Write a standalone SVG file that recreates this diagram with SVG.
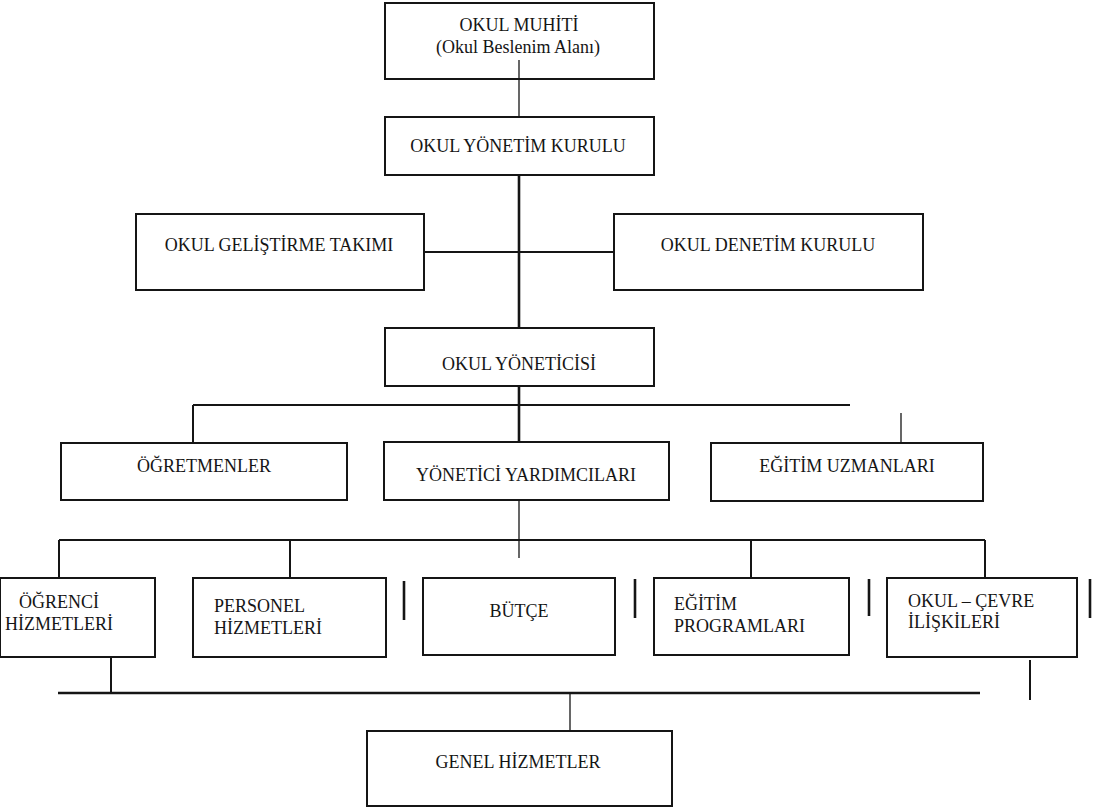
<svg xmlns="http://www.w3.org/2000/svg" width="1094" height="808" viewBox="0 0 1094 808">
<style>
.box{fill:#fff;stroke:#151515;stroke-width:2}
.t{font-family:"Liberation Serif","Times New Roman",serif;font-size:18px;fill:#151515}
.m{text-anchor:middle}
.ln{stroke:#151515;fill:none;stroke-width:2}
.th{stroke-width:2.6}
.tn{stroke-width:1.3}
</style>
<rect width="1094" height="808" fill="#fff"/>
<g id="okul-muhiti">
<rect class="box" x="385" y="3" width="269" height="76"/>
<text class="t m" x="519" y="31">OKUL MUHİTİ</text>
<text class="t m" x="518" y="53">(Okul Beslenim Alanı)</text>
</g>
<g id="okul-yonetim-kurulu">
<rect class="box" x="385" y="117" width="269" height="58"/>
<text class="t m" x="518" y="152">OKUL YÖNETİM KURULU</text>
</g>
<g id="okul-gelistirme-takimi">
<rect class="box" x="136" y="214" width="288" height="76"/>
<text class="t m" x="279" y="251">OKUL GELİŞTİRME TAKIMI</text>
</g>
<g id="okul-denetim-kurulu">
<rect class="box" x="614" y="214" width="309" height="76"/>
<text class="t m" x="768" y="251">OKUL DENETİM KURULU</text>
</g>
<g id="okul-yoneticisi">
<rect class="box" x="385" y="328" width="269" height="58"/>
<text class="t m" x="519" y="370">OKUL YÖNETİCİSİ</text>
</g>
<g id="ogretmenler">
<rect class="box" x="61" y="443" width="286" height="57"/>
<text class="t m" x="204" y="472">ÖĞRETMENLER</text>
</g>
<g id="yonetici-yardimcilari">
<rect class="box" x="384" y="442" width="285" height="58"/>
<text class="t m" x="526" y="481">YÖNETİCİ YARDIMCILARI</text>
</g>
<g id="egitim-uzmanlari">
<rect class="box" x="711" y="443" width="272" height="58"/>
<text class="t m" x="847" y="472">EĞİTİM UZMANLARI</text>
</g>
<g id="ogrenci-hizmetleri">
<rect class="box" x="0" y="578" width="155" height="79"/>
<text class="t m" x="59" y="608">ÖĞRENCİ</text>
<text class="t m" x="59" y="630">HİZMETLERİ</text>
</g>
<g id="personel-hizmetleri">
<rect class="box" x="193" y="578" width="193" height="79"/>
<text class="t" x="214" y="612">PERSONEL</text>
<text class="t" x="214" y="634">HİZMETLERİ</text>
</g>
<g id="butce">
<rect class="box" x="423" y="578" width="192" height="77"/>
<text class="t m" x="519" y="617">BÜTÇE</text>
</g>
<g id="egitim-programlari">
<rect class="box" x="654" y="578" width="195" height="77"/>
<text class="t" x="674" y="610">EĞİTİM</text>
<text class="t" x="674" y="632">PROGRAMLARI</text>
</g>
<g id="okul-cevre-iliskileri">
<rect class="box" x="887" y="578" width="190" height="79"/>
<text class="t" x="908" y="607">OKUL – ÇEVRE</text>
<text class="t" x="908" y="628">İLİŞKİLERİ</text>
</g>
<g id="genel-hizmetler">
<rect class="box" x="367" y="731" width="305" height="75"/>
<text class="t m" x="518" y="768">GENEL HİZMETLER</text>
</g>
<g id="connectors">
<line class="ln tn" x1="519" y1="60" x2="519" y2="117"/>
<line class="ln th" x1="519" y1="175" x2="519" y2="328"/>
<line class="ln" x1="424" y1="252" x2="614" y2="252"/>
<line class="ln th" x1="519" y1="386" x2="519" y2="442"/>
<line class="ln" x1="193" y1="405" x2="850" y2="405"/>
<line class="ln" x1="193" y1="405" x2="193" y2="443"/>
<line class="ln tn" x1="901" y1="413" x2="901" y2="443"/>
<line class="ln tn" x1="519" y1="500" x2="519" y2="558"/>
<line class="ln" x1="59" y1="540" x2="985" y2="540"/>
<line class="ln" x1="59" y1="540" x2="59" y2="578"/>
<line class="ln" x1="290" y1="540" x2="290" y2="578"/>
<line class="ln" x1="751" y1="540" x2="751" y2="578"/>
<line class="ln" x1="985" y1="540" x2="985" y2="578"/>
<line class="ln th" x1="404" y1="581" x2="404" y2="620"/>
<line class="ln th" x1="635" y1="579" x2="635" y2="618"/>
<line class="ln th" x1="869" y1="579" x2="869" y2="616"/>
<line class="ln th" x1="1090" y1="579" x2="1090" y2="618"/>
<line class="ln" x1="111" y1="657" x2="111" y2="693"/>
<line class="ln th" x1="58" y1="693" x2="980" y2="693"/>
<line class="ln tn" x1="570" y1="693" x2="570" y2="731"/>
<line class="ln" x1="1030" y1="660" x2="1030" y2="700"/>
</g>
</svg>
